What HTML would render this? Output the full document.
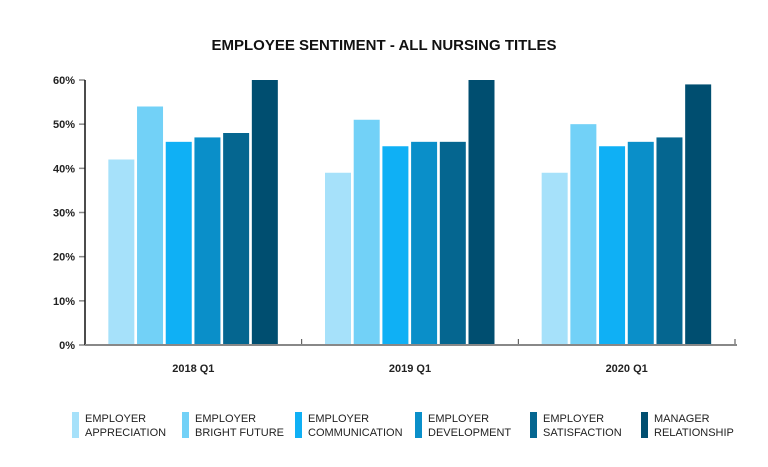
<!DOCTYPE html>
<html><head><meta charset="utf-8"><style>
body{margin:0;background:#fff;font-family:"Liberation Sans",sans-serif}
</style></head><body>
<svg id="c" width="768" height="462" xmlns="http://www.w3.org/2000/svg"></svg>
<script>
const categories=["2018 Q1","2019 Q1","2020 Q1"];
const seriesNames=["EMPLOYER|APPRECIATION","EMPLOYER|BRIGHT FUTURE","EMPLOYER|COMMUNICATION","EMPLOYER|DEVELOPMENT","EMPLOYER|SATISFACTION","MANAGER|RELATIONSHIP"];
const appreciation=[42,39,39];
const brightFuture=[54,51,50];
const communication=[46,45,45];
const development=[47,46,46];
const satisfaction=[48,46,47];
const relationship=[60,60,59];
const yTicks=[0,10,20,30,40,50,60];
const series=[appreciation,brightFuture,communication,development,satisfaction,relationship];
const colors=["#a6e1fa","#72d1f7","#0fb0f5","#0a8fc9","#056690","#004e70"];
const svg=document.getElementById('c');
const NS="http://www.w3.org/2000/svg";
function mk(t,a,p){const e=document.createElementNS(NS,t);for(const k in a)e.setAttribute(k,a[k]);(p||svg).appendChild(e);return e;}
const x0=85,x1=735,y0=345,yTop=80;
const y=v=>y0-(v/60)*(y0-yTop);
const gw=(x1-x0)/categories.length;
const t=mk('text',{x:384,y:50,'text-anchor':'middle','font-size':15,'font-weight':'bold',fill:'#111'});

t.textContent="EMPLOYEE SENTIMENT - ALL NURSING TITLES";
yTicks.forEach(v=>{
  const l=mk('line',{x1:x0-6,x2:x0,y1:y(v),y2:y(v),stroke:'#888','stroke-width':1.5});
  
  const tx=mk('text',{x:x0-10,y:y(v)+4,'text-anchor':'end','font-size':11,'font-weight':'bold',fill:'#222'});
  
  tx.textContent=v+"%";
});
const bw=26,step=28.7;
categories.forEach((c,i)=>{
  const cx=x0+gw*(i+0.5);
  series.forEach((s,j)=>{
    const bx=cx-85+j*step;
    const r=mk('rect',{x:bx,y:y(s[i]),width:bw,height:y0-y(s[i]),fill:colors[j]});
    
    
  });
  const tl=mk('text',{x:cx,y:y0+27,'text-anchor':'middle','font-size':11,'font-weight':'bold',fill:'#222'});
  
  tl.textContent=c;
  const tk=mk('line',{x1:x0+gw*(i+1),x2:x0+gw*(i+1),y1:y0-6,y2:y0,stroke:'#444','stroke-width':1});
  
});
const ya=mk('line',{x1:x0,x2:x0,y1:yTop,y2:y0,stroke:'#111','stroke-width':1.5});

const xa=mk('line',{x1:x0,x2:x1+2,y1:y0,y2:y0,stroke:'#888','stroke-width':2});

const lx=[72,182,295,415,530,641];
seriesNames.forEach((n,j)=>{
  const g=mk('g',{});
  
  mk('rect',{x:lx[j],y:412,width:7,height:26,fill:colors[j]},g);
  const p=n.split('|');
  p.forEach((s,k)=>{const tx=mk('text',{x:lx[j]+13,y:422+k*14,'font-size':11,fill:'#222'},g);tx.textContent=s;});
});
</script>
</body></html>
